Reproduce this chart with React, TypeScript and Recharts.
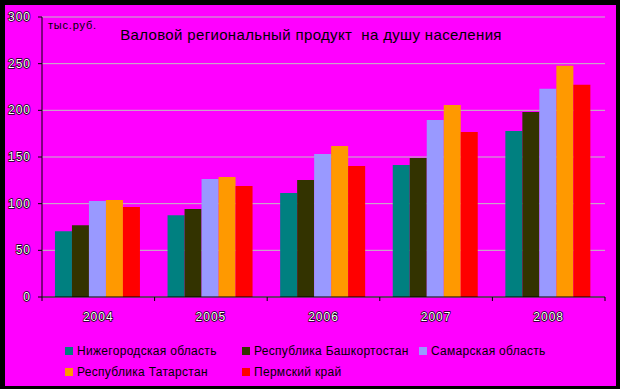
import React from 'react';
import { BarChart, Bar, XAxis, YAxis, CartesianGrid } from 'recharts';

const years = ['2004', '2005', '2006', '2007', '2008'];
const nizhny = [70.5, 87.7, 111.3, 141.4, 177.9];
const bashkortostan = [77, 94.2, 125.3, 148.9, 198.3];
const samara = [102.8, 126.4, 153.2, 189.7, 223];
const tatarstan = [103.8, 128.5, 161.8, 205.8, 247.7];
const perm = [96.3, 118.9, 140.3, 176.8, 227.3];
const seriesNames = [
  'Нижегородская область',
  'Республика Башкортостан',
  'Самарская область',
  'Республика Татарстан',
  'Пермский край',
];
const seriesColors = ['#008080', '#333300', '#9999FF', '#FF9900', '#FF0000'];
const yTicks = [0, 50, 100, 150, 200, 250, 300];
const xTicks = [0, 0.5, 1, 1.5, 2, 2.5, 3, 3.5, 4, 4.5, 5];
const title = 'Валовой региональный продукт  на душу населения';
const unit = 'тыс.руб.';

const seriesValues = [nizhny, bashkortostan, samara, tatarstan, perm];
const data = years.map((y, i) => {
  const row: Record<string, string | number> = { year: y };
  seriesNames.forEach((n, k) => {
    row[n] = seriesValues[k][i];
  });
  return row;
});

const FONT = '"Liberation Sans", Arial, sans-serif';

const YTick = (props: any) => {
  const { x, y, payload } = props;
  return (
    <text
      x={x}
      y={y}
      dy={4}
      textAnchor="end"
      fontFamily={FONT}
      fontSize={12}
      letterSpacing={1}
      fill="#ffffff"
      stroke="#000000"
      strokeWidth={1.4}
      paintOrder="stroke"
    >
      {payload.value}
    </text>
  );
};

const XTick = (props: any) => {
  const { x, y, payload } = props;
  const v = payload.value as number;
  if (Number.isInteger(v)) {
    return <line x1={x} y1={y} x2={x} y2={y + 4} stroke="#000" strokeWidth={1} />;
  }
  return (
    <text
      x={x}
      y={y}
      dy={24}
      textAnchor="middle"
      fontFamily={FONT}
      fontSize={12}
      letterSpacing={1}
      fill="#ffffff"
      stroke="#000000"
      strokeWidth={1.4}
      paintOrder="stroke"
    >
      {years[Math.floor(v)]}
    </text>
  );
};

const legendCols = [65, 242, 419];
const legendRows = [344, 365];

export default function App() {
  return (
    <div
      style={{
        position: 'absolute',
        left: 0,
        top: 0,
        width: 620,
        height: 389,
        background: '#000',
        fontFamily: FONT,
      }}
    >
      <div
        style={{
          position: 'absolute',
          left: 5,
          top: 5,
          width: 611,
          height: 381,
          background: '#FF00FF',
        }}
      />
      <div style={{ position: 'absolute', left: 0, top: 0 }}>
        <BarChart
          width={620}
          height={389}
          data={data}
          margin={{ top: 17, right: 15, left: 0, bottom: 62 }}
          barCategoryGap="11.5%"
          barGap={0}
        >
          <CartesianGrid vertical={false} stroke="#C0C0C0" strokeWidth={1} />
          <XAxis xAxisId="cat" dataKey="year" hide />
          <XAxis
            xAxisId="b"
            type="number"
            dataKey="idx"
            domain={[0, 5]}
            allowDataOverflow
            ticks={xTicks}
            interval={0}
            height={30}
            tickSize={0}
            tickMargin={0}
            tickLine={false}
            axisLine={{ stroke: '#000', strokeWidth: 1 }}
            tick={<XTick />}
          />
          <YAxis
            domain={[0, 300]}
            ticks={yTicks}
            interval={0}
            width={42}
            tickSize={4}
            tickMargin={7}
            axisLine={{ stroke: '#000', strokeWidth: 1 }}
            tickLine={{ stroke: '#000', strokeWidth: 1 }}
            tick={<YTick />}
          />
          {seriesNames.map((n, k) => (
            <Bar
              key={n}
              xAxisId="cat"
              dataKey={n}
              fill={seriesColors[k]}
              isAnimationActive={false}
            />
          ))}
        </BarChart>
      </div>
      <div
        style={{
          position: 'absolute',
          left: 311,
          top: 26,
          transform: 'translateX(-50%)',
          whiteSpace: 'pre',
          fontSize: 15,
          letterSpacing: 0.35,
          color: '#000',
        }}
      >
        {title}
      </div>
      <div
        style={{
          position: 'absolute',
          left: 48,
          top: 19,
          fontSize: 11,
          letterSpacing: 0.8,
          color: '#000',
        }}
      >
        {unit}
      </div>
      {seriesNames.map((n, k) => {
        const col = k % 3;
        const row = Math.floor(k / 3);
        return (
          <div
            key={n}
            style={{
              position: 'absolute',
              left: legendCols[col],
              top: legendRows[row],
              display: 'flex',
              alignItems: 'center',
              fontSize: 12,
              letterSpacing: 0.3,
              whiteSpace: 'nowrap',
              color: '#000',
              lineHeight: '14px',
            }}
          >
            <span
              style={{
                display: 'inline-block',
                width: 8,
                height: 8,
                background: seriesColors[k],
                marginRight: 4,
              }}
            />
            {n}
          </div>
        );
      })}
    </div>
  );
}
